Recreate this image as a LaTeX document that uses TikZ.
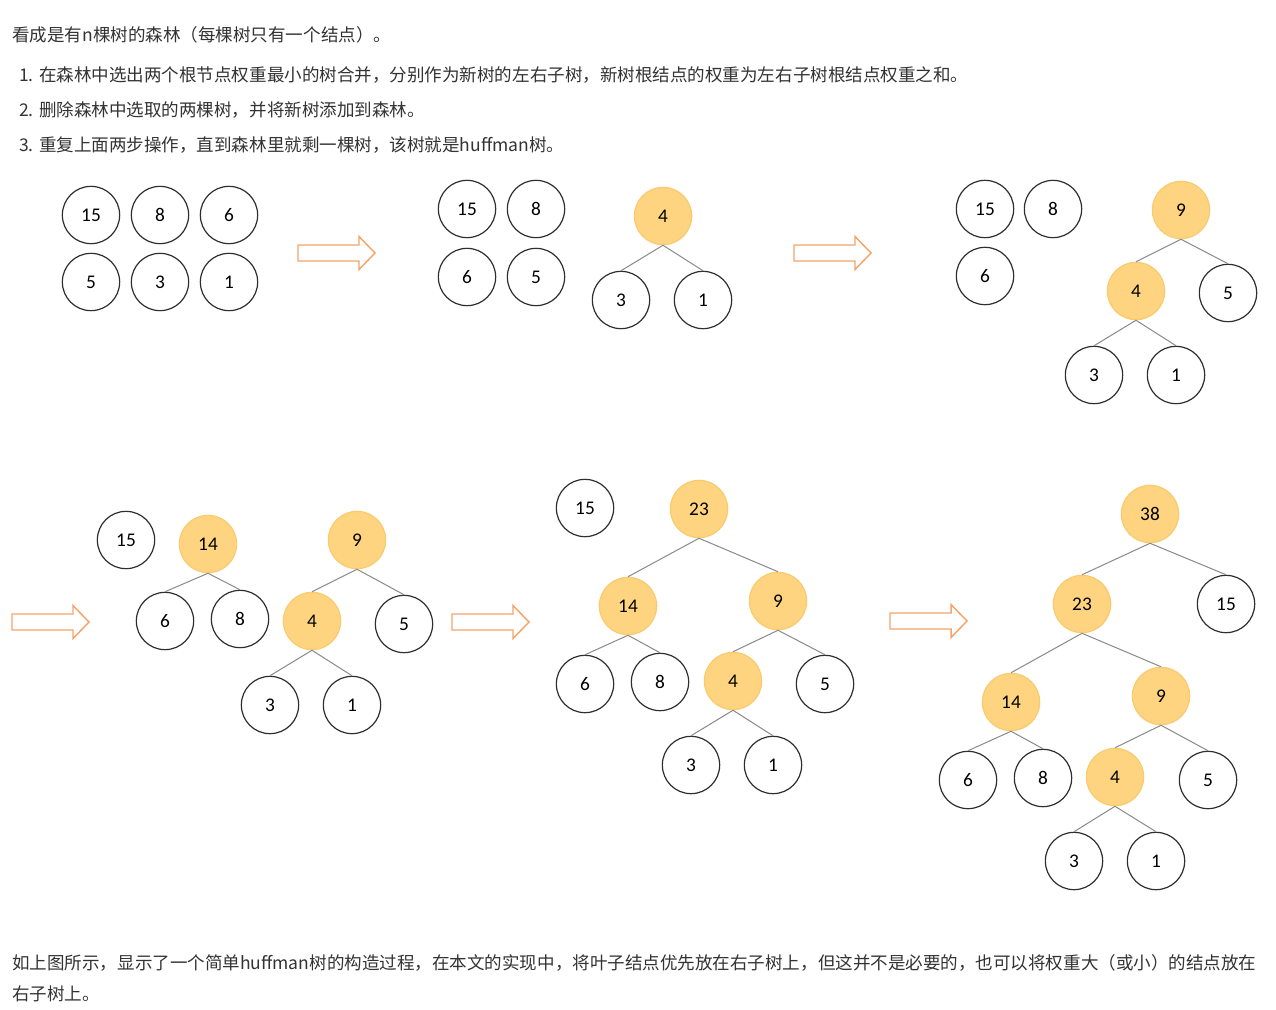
\documentclass[tikz,border=0pt]{standalone}
\usepackage{fontspec}
\setmainfont{Noto Sans CJK SC}
\newfontfamily\numfont{Carlito}
\definecolor{textgray}{HTML}{333333}
\definecolor{ringgray}{HTML}{2E2E2E}
\definecolor{hfill}{HTML}{FFD480}
\definecolor{hborder}{HTML}{FACB6E}
\definecolor{edgegray}{HTML}{8A8A8A}
\definecolor{arroworange}{HTML}{F5A46C}
\tikzset{
  nd/.style={circle, draw=ringgray, line width=0.9pt, minimum size=43pt, inner sep=0pt,
    font=\numfont\fontsize{14.5pt}{14.5pt}\selectfont, text=black},
  hn/.style={nd, fill=hfill, draw=hborder},
  ed/.style={draw=edgegray, line width=0.75pt},
  bigarrow/.style={draw=arroworange, line width=1.1pt, line join=miter},
  txt/.style={anchor=west, inner sep=0pt, text=textgray, font=\fontsize{13.15pt}{15pt}\selectfont}
}
\newcommand{\blockarrow}[3]{% name, x, y
  \draw[bigarrow] (#2,#3-8) -- (#2+61,#3-8) -- (#2+61,#3-16.5) -- (#2+77,#3)
    -- (#2+61,#3+16.5) -- (#2+61,#3+8) -- (#2,#3+8) -- cycle;
  \coordinate (#1) at (#2+39,#3);
}
\begin{document}
\begin{tikzpicture}[x=0.75pt,y=-0.75pt]
\useasboundingbox (0,0) rectangle (1276,1009);
\fill[white] (0,0) rectangle (1276,1009);

% texts
\node[txt] (t0) at (12,35) {看成是有n棵树的森林（每棵树只有一个结点）。};
\node[txt] (t1) at (19,75) {1. 在森林中选出两个根节点权重最小的树合并，分别作为新树的左右子树，新树根结点的权重为左右子树根结点权重之和。};
\node[txt] (t2) at (19,110) {2. 删除森林中选取的两棵树，并将新树添加到森林。};
\node[txt] (t3) at (19,145) {3. 重复上面两步操作，直到森林里就剩一棵树，该树就是huffman树。};
\node[txt] (b1) at (12,963) {如上图所示，显示了一个简单huffman树的构造过程，在本文的实现中，将叶子结点优先放在右子树上，但这并不是必要的，也可以将权重大（或小）的结点放在};
\node[txt] (b2) at (12,994) {右子树上。};

% panel 1
\node[nd] (a15) at (91,215) {15};
\node[nd] (a8) at (160,215) {8};
\node[nd] (a6) at (229,215) {6};
\node[nd] (a5) at (91,282) {5};
\node[nd] (a3) at (160,282) {3};
\node[nd] (a1) at (229,282) {1};

\blockarrow{ar1}{298}{253}

% panel 2
\node[nd] (b15) at (467,209) {15};
\node[nd] (b8) at (536,209) {8};
\node[nd] (b6) at (467,277) {6};
\node[nd] (b5) at (536,277) {5};
\node[hn] (b4) at (663,216) {4};
\node[nd] (b3) at (621,300) {3};
\node[nd] (b1n) at (703,300) {1};
\draw[ed] (b4.south) -- (b3.north);
\draw[ed] (b4.south) -- (b1n.north);

\blockarrow{ar2}{794}{253}

% panel 3
\node[nd] (c15) at (985,209) {15};
\node[nd] (c8) at (1053,209) {8};
\node[nd] (c6) at (985,276) {6};
\node[hn] (c9) at (1181,210) {9};
\node[hn] (c4) at (1136,291) {4};
\node[nd] (c5) at (1228,293) {5};
\node[nd] (c3) at (1094,375) {3};
\node[nd] (c1) at (1176,375) {1};
\draw[ed] (c9.south) -- (c4.north);
\draw[ed] (c9.south) -- (c5.north);
\draw[ed] (c4.south) -- (c3.north);
\draw[ed] (c4.south) -- (c1.north);

\blockarrow{ar3}{12}{622}

% panel 4
\node[nd] (d15) at (126,540) {15};
\node[hn] (d14) at (208,544) {14};
\node[nd] (d6) at (165,621) {6};
\node[nd] (d8) at (240,619) {8};
\node[hn] (d9) at (357,540) {9};
\node[hn] (d4) at (312,621) {4};
\node[nd] (d5) at (404,624) {5};
\node[nd] (d3) at (270,705) {3};
\node[nd] (d1) at (352,705) {1};
\draw[ed] (d14.south) -- (d6.north);
\draw[ed] (d14.south) -- (d8.north);
\draw[ed] (d9.south) -- (d4.north);
\draw[ed] (d9.south) -- (d5.north);
\draw[ed] (d4.south) -- (d3.north);
\draw[ed] (d4.south) -- (d1.north);

\blockarrow{ar4}{452}{622}

% panel 5
\node[nd] (e15) at (585,508) {15};
\node[hn] (e23) at (699,509) {23};
\node[hn] (e14) at (628,606) {14};
\node[hn] (e9) at (778,601) {9};
\node[nd] (e6) at (585,684) {6};
\node[nd] (e8) at (660,682) {8};
\node[hn] (e4) at (733,681) {4};
\node[nd] (e5) at (825,684) {5};
\node[nd] (e3) at (691,765) {3};
\node[nd] (e1) at (773,765) {1};
\draw[ed] (e23.south) -- (e14.north);
\draw[ed] (e23.south) -- (e9.north);
\draw[ed] (e14.south) -- (e6.north);
\draw[ed] (e14.south) -- (e8.north);
\draw[ed] (e9.south) -- (e4.north);
\draw[ed] (e9.south) -- (e5.north);
\draw[ed] (e4.south) -- (e3.north);
\draw[ed] (e4.south) -- (e1.north);

\blockarrow{ar5}{890}{621}

% panel 6
\node[hn] (f38) at (1150,514) {38};
\node[hn] (f23) at (1082,604) {23};
\node[nd] (f15) at (1226,604) {15};
\node[hn] (f14) at (1011,702) {14};
\node[hn] (f9) at (1161,696) {9};
\node[nd] (f6) at (968,780) {6};
\node[nd] (f8) at (1043,778) {8};
\node[hn] (f4) at (1115,777) {4};
\node[nd] (f5) at (1208,780) {5};
\node[nd] (f3) at (1074,861) {3};
\node[nd] (f1) at (1156,861) {1};
\draw[ed] (f38.south) -- (f23.north);
\draw[ed] (f38.south) -- (f15.north);
\draw[ed] (f23.south) -- (f14.north);
\draw[ed] (f23.south) -- (f9.north);
\draw[ed] (f14.south) -- (f6.north);
\draw[ed] (f14.south) -- (f8.north);
\draw[ed] (f9.south) -- (f4.north);
\draw[ed] (f9.south) -- (f5.north);
\draw[ed] (f4.south) -- (f3.north);
\draw[ed] (f4.south) -- (f1.north);
\end{tikzpicture}
\end{document}
